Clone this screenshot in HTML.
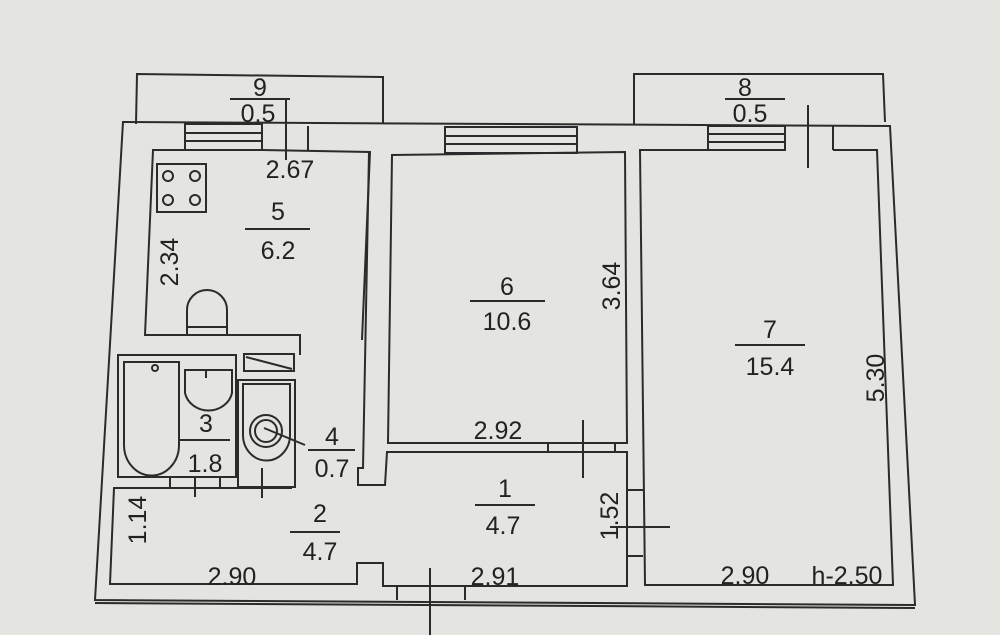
<!DOCTYPE html>
<html><head><meta charset="utf-8"><style>
html,body{margin:0;padding:0;background:#e4e4e1;}
svg{display:block}
text{font-family:"Liberation Sans",sans-serif;font-size:25px;fill:#222;text-anchor:middle}
</style></head><body>
<svg width="1000" height="635" viewBox="0 0 1000 635">
<rect width="1000" height="635" fill="#e4e4e1"/>
<g fill="none" stroke="#2b2b2b" stroke-width="2">
<polyline points="136,124 137,74 383,77 383,124"/>
<polyline points="634,124 634,74 883,74 885,122"/>
<polygon points="123,122 890,126 915,605 95,600"/>
<line x1="95" y1="603" x2="915" y2="608"/>
<polyline points="185,150 153,150 145,335 300,335 300,355"/>
<polyline points="262,150 370,152 362,340"/>
<rect x="185" y="124" width="77" height="26"/>
<line x1="185" y1="133" x2="262" y2="133"/><line x1="185" y1="141" x2="262" y2="141"/>
<line x1="308" y1="126" x2="308" y2="150"/>
<line x1="286" y1="100" x2="286" y2="160"/>
<rect x="157" y="164" width="49" height="48"/>
<circle cx="168" cy="176" r="5"/><circle cx="195" cy="176" r="5"/>
<circle cx="168" cy="200" r="5"/><circle cx="195" cy="200" r="5"/>
<path d="M187,335 L187,310 A20,20 0 0 1 227,310 L227,335"/>
<line x1="187" y1="327" x2="227" y2="327"/>
<polyline points="369,152 363,468 358,468 358,485 385,485 387,452"/>
<polygon points="392,155 625,152 627,443 388,443"/>
<rect x="445" y="127" width="132" height="26"/>
<line x1="445" y1="136" x2="577" y2="136"/><line x1="445" y1="144" x2="577" y2="144"/>
<polyline points="386,452 627,452 627,586 383,586 383,563 357,563 357,584 110,584 114,488 292,488"/>
<line x1="397" y1="586" x2="397" y2="600"/><line x1="465" y1="586" x2="465" y2="600"/>
<line x1="430" y1="568" x2="430" y2="635"/>
<line x1="548" y1="443" x2="548" y2="452"/><line x1="615" y1="443" x2="615" y2="452"/>
<line x1="583" y1="420" x2="583" y2="478"/>
<rect x="118" y="355" width="118" height="122"/>
<path d="M124,362 L179,362 L179,445 A27,30 0 0 1 124,445 Z" fill="none"/>
<circle cx="155" cy="368" r="3"/>
<path d="M185,370 L232,370 L232,393 A24,22 0 0 1 185,393 Z"/>
<line x1="206" y1="370" x2="206" y2="378"/>
<line x1="195" y1="477" x2="195" y2="497"/>
<line x1="170" y1="477" x2="170" y2="487"/><line x1="220" y1="477" x2="220" y2="487"/>
<rect x="238" y="380" width="57" height="107"/>
<path d="M243,384 L290,384 L290,435 A23,25 0 0 1 243,435 Z"/>
<circle cx="266" cy="431" r="16"/><circle cx="266" cy="431" r="11"/>
<line x1="264" y1="428" x2="305" y2="445"/>
<line x1="262" y1="468" x2="262" y2="498"/>
<rect x="244" y="354" width="50" height="17"/>
<line x1="246" y1="357" x2="292" y2="369"/>
<polyline points="708,150 640,150 645,585 893,585 877,150 833,150"/>
<rect x="708" y="126" width="77" height="24"/>
<line x1="708" y1="134" x2="785" y2="134"/><line x1="708" y1="142" x2="785" y2="142"/>
<line x1="833" y1="126" x2="833" y2="150"/>
<line x1="808" y1="105" x2="808" y2="168"/>
<line x1="627" y1="490" x2="643" y2="490"/><line x1="627" y1="556" x2="643" y2="556"/>
<line x1="610" y1="527" x2="670" y2="527"/>
</g>
<g>
<text x="260" y="96">9</text><line x1="230" y1="99" x2="290" y2="99" stroke="#2b2b2b" stroke-width="2"/><text x="258" y="122">0.5</text>
<text x="745" y="96">8</text><line x1="725" y1="99" x2="785" y2="99" stroke="#2b2b2b" stroke-width="2"/><text x="750" y="122">0.5</text>
<text x="290" y="178">2.67</text>
<text x="278" y="220">5</text><line x1="245" y1="229" x2="310" y2="229" stroke="#2b2b2b" stroke-width="2"/><text x="278" y="259">6.2</text>
<text transform="translate(178,262) rotate(-90)">2.34</text>
<text x="507" y="295">6</text><line x1="470" y1="301" x2="545" y2="301" stroke="#2b2b2b" stroke-width="2"/><text x="507" y="330">10.6</text>
<text transform="translate(620,286) rotate(-90)">3.64</text>
<text x="770" y="338">7</text><line x1="735" y1="345" x2="805" y2="345" stroke="#2b2b2b" stroke-width="2"/><text x="770" y="375">15.4</text>
<text transform="translate(884,378) rotate(-90)">5.30</text>
<text x="206" y="432">3</text><line x1="180" y1="440" x2="230" y2="440" stroke="#2b2b2b" stroke-width="2"/><text x="205" y="472">1.8</text>
<text x="332" y="445">4</text><line x1="308" y1="450" x2="355" y2="450" stroke="#2b2b2b" stroke-width="2"/><text x="332" y="477">0.7</text>
<text x="498" y="439">2.92</text>
<text x="505" y="497">1</text><line x1="475" y1="505" x2="535" y2="505" stroke="#2b2b2b" stroke-width="2"/><text x="503" y="534">4.7</text>
<text transform="translate(618,516) rotate(-90)">1.52</text>
<text x="320" y="522">2</text><line x1="290" y1="532" x2="340" y2="532" stroke="#2b2b2b" stroke-width="2"/><text x="320" y="560">4.7</text>
<text transform="translate(146,520) rotate(-90)">1.14</text>
<text x="232" y="585">2.90</text>
<text x="495" y="585">2.91</text>
<text x="745" y="584">2.90</text>
<text x="847" y="584">h-2.50</text>
</g>
</svg>
</body></html>
